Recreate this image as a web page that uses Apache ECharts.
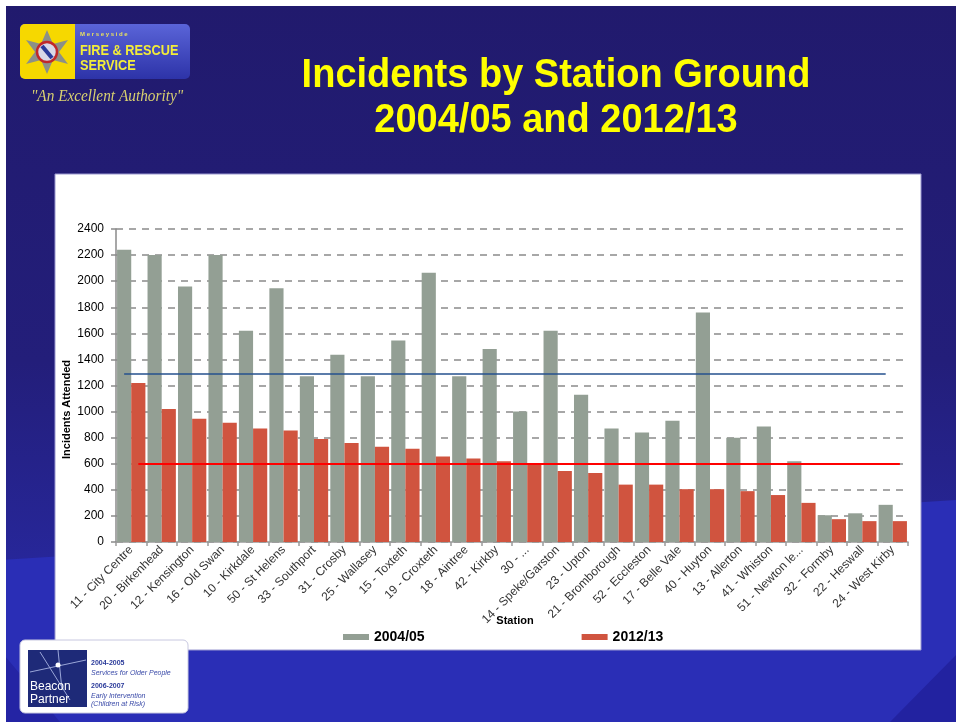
<!DOCTYPE html>
<html>
<head>
<meta charset="utf-8">
<title>Incidents by Station Ground</title>
<script src="https://cdn.jsdelivr.net/npm/echarts@6/dist/echarts.min.js"></script>
<style>
html, body { margin: 0; padding: 0; background: #fff; }
#chart { width: 956px; height: 722px; }
</style>
</head>
<body>
<div id="chart"></div>
<script>
// station grounds, in the order of the slide
var stations = [
    '11 - City Centre', '20 - Birkenhead', '12 - Kensington', '16 - Old Swan',
    '10 - Kirkdale', '50 - St Helens', '33 - Southport', '31 - Crosby',
    '25 - Wallasey', '15 - Toxteth', '19 - Croxteth', '18 - Aintree',
    '42 - Kirkby', '30 - ...', '14 - Speke/Garston', '23 - Upton',
    '21 - Bromborough', '52 - Eccleston', '17 - Belle Vale', '40 - Huyton',
    '13 - Allerton', '41 - Whiston', '51 - Newton le...', '32 - Formby',
    '22 - Heswall', '24 - West Kirby'
];
var incidents0405 = [
    2240, 2200, 1960, 2200, 1620, 1945, 1270, 1435, 1270, 1545, 2065, 1270, 1480,
    1000, 1620, 1130, 870, 840, 930, 1760, 800, 885, 620, 205, 220, 285
];
var incidents1213 = [
    1220, 1020, 945, 915, 870, 855, 790, 760, 730, 715, 655, 640, 620,
    600, 545, 530, 440, 440, 405, 405, 390, 360, 300, 175, 160, 160
];
// average lines drawn across the chart
var avg0405 = 1290;
var avg1213 = 600;
// y axis ticks
var yMin = 0, yMax = 2400, yStep = 200;

var sans = '"Liberation Sans", Arial, sans-serif';

var myChart = echarts.init(document.getElementById('chart'));

var option = {
    animation: false,
    backgroundColor: {
        type: 'linear', x: 0, y: 0, x2: 0, y2: 1,
        colorStops: [
            { offset: 0, color: '#211a6d' },
            { offset: 0.5, color: '#231e7a' },
            { offset: 1, color: '#2a2db2' }
        ]
    },
    graphic: [
        // brighter lower part of the slide
        { type: 'polygon', z: -20, silent: true,
          shape: { points: [[0, 560], [956, 500], [956, 722], [0, 722]] },
          style: { fill: '#2a2eb6' } },
        { type: 'polygon', z: -19, silent: true,
          shape: { points: [[890, 722], [956, 655], [956, 722]] },
          style: { fill: '#2222a0' } },
        { type: 'polygon', z: -19, silent: true,
          shape: { points: [[0, 650], [60, 722], [0, 722]] },
          style: { fill: '#2424a4' } },
        // white edges of the scanned slide
        { type: 'rect', z: -18, silent: true, shape: { x: 0, y: 0, width: 956, height: 6 }, style: { fill: '#fff' } },
        { type: 'rect', z: -18, silent: true, shape: { x: 0, y: 0, width: 6, height: 722 }, style: { fill: '#fff' } },
        // white chart panel
        { type: 'rect', z: -10, silent: true,
          shape: { x: 55, y: 174, width: 866, height: 476 },
          style: { fill: '#fff', stroke: '#9a98d0', lineWidth: 1 } },

        // fire & rescue logo
        { type: 'rect', silent: true, shape: { x: 20, y: 24, width: 170, height: 55, r: 5 },
          style: { fill: { type: 'linear', x: 0, y: 0, x2: 0, y2: 1,
                   colorStops: [{ offset: 0, color: '#5a64d8' }, { offset: 1, color: '#2d33a8' }] } } },
        { type: 'rect', silent: true, shape: { x: 20, y: 24, width: 55, height: 55, r: [5, 0, 0, 5] },
          style: { fill: '#f6d800' } },
        { type: 'polygon', silent: true,
          shape: { points: [[47, 30], [53, 44], [68, 40], [59, 52], [68, 64], [53, 60], [47, 74], [41, 60], [26, 64], [35, 52], [26, 40], [41, 44]] },
          style: { fill: '#8c9088' } },
        { type: 'circle', silent: true, shape: { cx: 47, cy: 52, r: 10 }, style: { fill: '#d8d8e8', stroke: '#c0282a', lineWidth: 2.5 } },
        { type: 'line', silent: true, shape: { x1: 42, y1: 46, x2: 52, y2: 58 }, style: { stroke: '#2a3a9a', lineWidth: 4 } },
        { type: 'text', silent: true, x: 80, y: 31,
          style: { text: 'M e r s e y s i d e', fill: '#e8e060', font: 'bold 6px ' + sans } },
        { type: 'text', silent: true, x: 80, y: 43, scaleX: 0.85,
          style: { text: 'FIRE & RESCUE', fill: '#f2ec3a', font: 'bold 15px ' + sans } },
        { type: 'text', silent: true, x: 80, y: 58, scaleX: 0.85,
          style: { text: 'SERVICE', fill: '#f2ec3a', font: 'bold 15px ' + sans } },
        { type: 'text', silent: true, x: 107, y: 97, scaleX: 0.9,
          style: { text: '"An Excellent Authority"', fill: '#d8d070', textAlign: 'center', textVerticalAlign: 'middle',
                   font: 'italic 17px "Liberation Serif", "DejaVu Serif", serif' } },

        // title
        { type: 'text', silent: true, x: 556, y: 53, scaleX: 0.95,
          style: { text: 'Incidents by Station Ground\n2004/05 and 2012/13', fill: '#ffff00', textAlign: 'center',
                   font: 'bold 40px ' + sans, lineHeight: 45 } },

        // beacon partner badge
        { type: 'rect', silent: true, shape: { x: 20, y: 640, width: 168, height: 73, r: 5 },
          style: { fill: '#fff', stroke: '#c8c8e0', lineWidth: 1 } },
        { type: 'rect', silent: true, shape: { x: 28, y: 650, width: 59, height: 57 }, style: { fill: '#1e2a78' } },
        { type: 'line', silent: true, shape: { x1: 40, y1: 652, x2: 70, y2: 700 }, style: { stroke: '#9aa6d8', lineWidth: 1 } },
        { type: 'line', silent: true, shape: { x1: 30, y1: 672, x2: 86, y2: 660 }, style: { stroke: '#9aa6d8', lineWidth: 1 } },
        { type: 'line', silent: true, shape: { x1: 58, y1: 650, x2: 62, y2: 690 }, style: { stroke: '#9aa6d8', lineWidth: 1 } },
        { type: 'circle', silent: true, shape: { cx: 58, cy: 665, r: 2.5 }, style: { fill: '#fff' } },
        { type: 'text', silent: true, x: 30, y: 680,
          style: { text: 'Beacon\nPartner', fill: '#fff', font: '12px ' + sans, lineHeight: 13 } },
        { type: 'text', silent: true, x: 91, y: 660,
          style: { text: '2004-2005', fill: '#2a3a9a', font: 'bold 7px ' + sans } },
        { type: 'text', silent: true, x: 91, y: 670,
          style: { text: 'Services for Older People', fill: '#3a4aa8', font: 'italic 7px ' + sans } },
        { type: 'text', silent: true, x: 91, y: 683,
          style: { text: '2006-2007', fill: '#2a3a9a', font: 'bold 7px ' + sans } },
        { type: 'text', silent: true, x: 91, y: 692,
          style: { text: 'Early Intervention\n(Children at Risk)', fill: '#3a4aa8', lineHeight: 8,
                   font: 'italic 7px ' + sans } }
    ],
    legend: {
        data: ['2004/05', '2012/13'],
        left: 338,
        top: 625,
        icon: 'rect',
        itemWidth: 26,
        itemHeight: 6,
        itemGap: 157,
        textStyle: { color: '#000', fontWeight: 'bold', fontSize: 14, fontFamily: sans }
    },
    grid: {
        left: 116,
        right: 48,
        top: 229,
        bottom: 180,
        containLabel: false
    },
    xAxis: {
        type: 'category',
        data: stations,
        name: 'Station',
        nameLocation: 'middle',
        nameGap: 73,
        nameMoveOverlap: false,
        nameTextStyle: { color: '#000', fontWeight: 'bold', fontSize: 11, fontFamily: sans, padding: [0, 0, 0, 6] },
        axisLine: { lineStyle: { color: '#9a9a9a', width: 1.5 } },
        axisTick: { show: true, length: 4, lineStyle: { color: '#9a9a9a', width: 1.5 } },
        axisLabel: {
            interval: 0,
            rotate: 45,
            margin: 6,
            color: '#333',
            fontSize: 12,
            fontFamily: sans
        }
    },
    yAxis: {
        type: 'value',
        min: yMin,
        max: yMax,
        interval: yStep,
        name: 'Incidents Attended',
        nameLocation: 'middle',
        nameGap: 44,
        nameMoveOverlap: false,
        nameRotate: 90,
        nameTextStyle: { color: '#000', fontWeight: 'bold', fontSize: 11, fontFamily: sans, padding: [0, 48, 0, 0] },
        axisLine: { show: true, lineStyle: { color: '#8a8a8a', width: 1.5 } },
        axisTick: { show: true, length: 5, lineStyle: { color: '#8a8a8a', width: 1.5 } },
        axisLabel: {
            color: '#000', fontSize: 12, margin: 12, fontFamily: sans,
            formatter: function (v) { return String(v); }
        },
        splitLine: { lineStyle: { color: '#8a8a8a', width: 1.5, type: [7, 6] } }
    },
    series: [
        {
            name: '2004/05',
            type: 'bar',
            data: incidents0405,
            barGap: '0%',
            barCategoryGap: '7%',
            itemStyle: { color: '#939f94' },
            markLine: {
                silent: true,
                symbol: 'none',
                label: { show: false },
                lineStyle: { color: '#24508e', width: 1.5, type: 'solid' },
                data: [[{ coord: [0, avg0405] }, { coord: [stations.length - 1, avg0405] }]]
            }
        },
        {
            name: '2012/13',
            type: 'bar',
            data: incidents1213,
            barGap: '0%',
            barCategoryGap: '7%',
            itemStyle: { color: '#d0543f' },
            markLine: {
                silent: true,
                symbol: 'none',
                label: { show: false },
                lineStyle: { color: '#ff0000', width: 2, type: 'solid' },
                data: [[{ coord: [0, avg1213] }, { coord: [stations.length - 1, avg1213] }]]
            }
        }
    ]
};

myChart.setOption(option);
</script>
</body>
</html>
